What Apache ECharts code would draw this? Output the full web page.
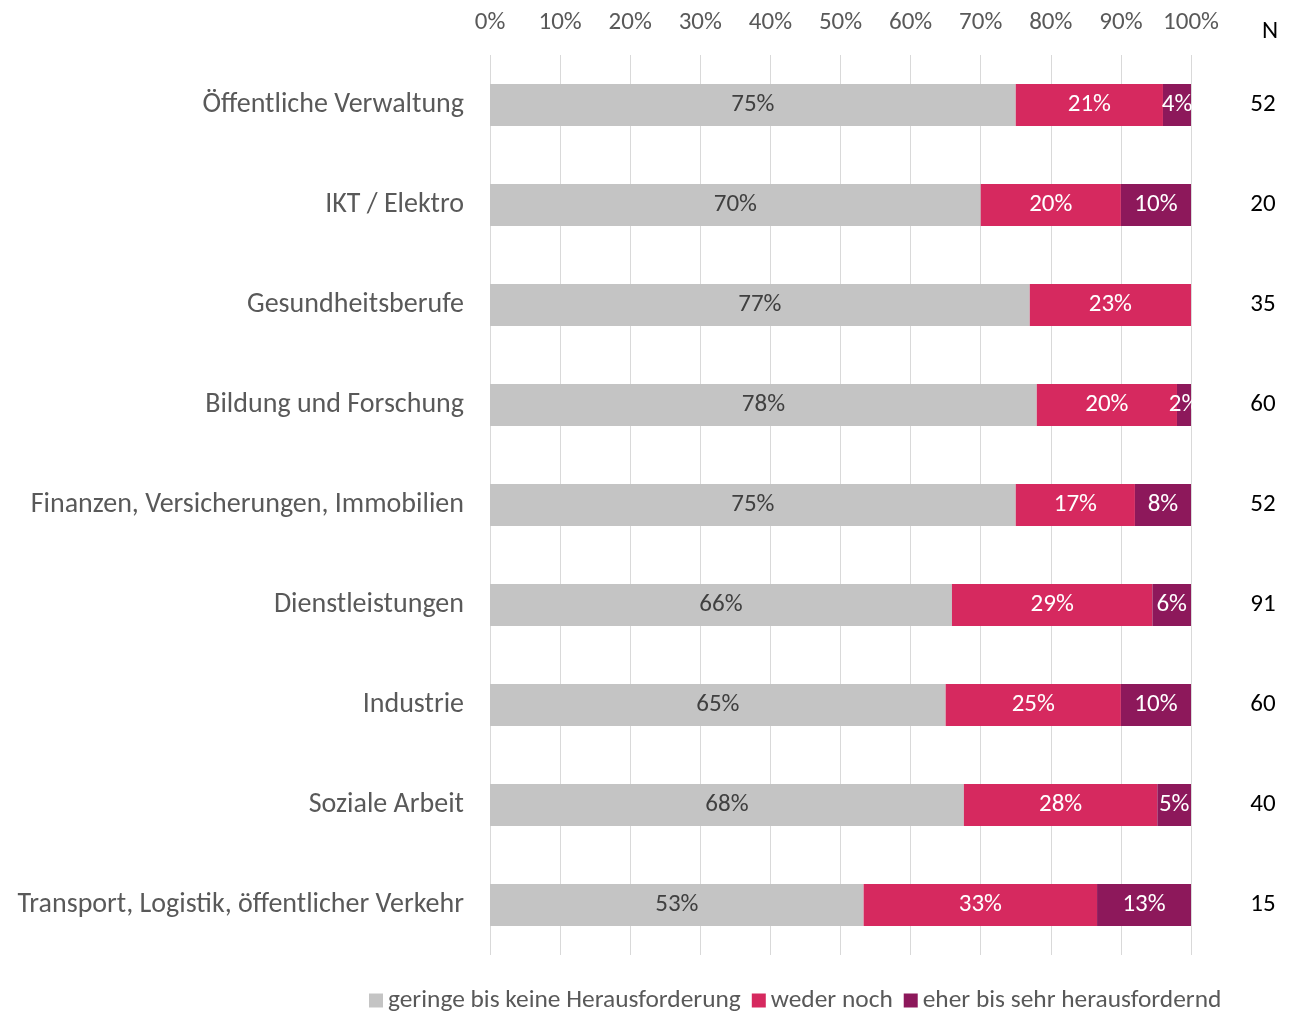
<!DOCTYPE html>
<html>
<head>
<meta charset="utf-8">
<script src="https://cdn.jsdelivr.net/npm/echarts@6/dist/echarts.min.js"></script>
<style>
  html, body { margin: 0; padding: 0; background: #fff; }
  #chart { width: 1291px; height: 1011px; }
</style>
</head>
<body>
<div id="chart"></div>
<script>
// Branchen (top to bottom)
const categories = [
  'Öffentliche Verwaltung',
  'IKT / Elektro',
  'Gesundheitsberufe',
  'Bildung und Forschung',
  'Finanzen, Versicherungen, Immobilien',
  'Dienstleistungen',
  'Industrie',
  'Soziale Arbeit',
  'Transport, Logistik, öffentlicher Verkehr'
];

// Shares in percent per answer group
const geringe = [75, 70, 77, 78, 75, 65.9, 65, 67.6, 53.3];
const wederNoch = [21, 20, 23, 20, 17, 28.6, 25, 27.6, 33.3];
const herausfordernd = [4, 10, 0, 2, 8, 5.5, 10, 4.8, 13.4];

// Sample sizes
const nValues = [52, 20, 35, 60, 52, 91, 60, 40, 15];

// Axis ticks
const xTicks = [0, 10, 20, 30, 40, 50, 60, 70, 80, 90, 100];

const seriesNames = ['geringe bis keine Herausforderung', 'weder noch', 'eher bis sehr herausfordernd'];
const colors = ['#C4C4C4', '#D6295F', '#8D185B'];
const labelColors = ['#404040', '#FFFFFF', '#FFFFFF'];

const FONT = 'Carlito, Lato, "Open Sans", sans-serif';

const chart = echarts.init(document.getElementById('chart'), null, { renderer: 'canvas' });

function makeSeries(name, data, idx) {
  return {
    name: name,
    type: 'bar',
    stack: 'total',
    barWidth: 42,
    data: data,
    itemStyle: { color: colors[idx] },
    label: {
      show: true,
      position: 'inside',
      color: labelColors[idx],
      fontFamily: FONT,
      fontSize: 25,
      padding: [4, 0, 0, 0],
      formatter: p => (p.value > 0 ? Math.round(p.value) + '%' : '')
    },
    emphasis: { disabled: true }
  };
}

chart.setOption({
  animation: false,
  color: colors,
  title: {
    text: 'N',
    left: 1257,
    top: 14,
    textStyle: { fontFamily: FONT, fontSize: 25, fontWeight: 'normal', color: '#000' }
  },
  grid: { left: 490, right: 100, top: 55, bottom: 56, containLabel: false },
  legend: {
    top: 983,
    left: 364,
    itemWidth: 14,
    itemHeight: 14,
    itemGap: 11,
    icon: 'rect',
    textStyle: { fontFamily: FONT, fontSize: 25.4, color: '#595959' },
    data: seriesNames
  },
  xAxis: {
    type: 'value',
    position: 'top',
    min: 0,
    max: 100,
    interval: 10,
    axisLine: { show: false },
    axisTick: { show: false },
    splitLine: { lineStyle: { color: '#D9D9D9', width: 1 } },
    axisLabel: {
      margin: 20,
      color: '#595959',
      fontFamily: FONT,
      fontSize: 25,
      formatter: v => (xTicks.indexOf(v) >= 0 ? v + '%' : '')
    }
  },
  yAxis: [
    {
      type: 'category',
      inverse: true,
      data: categories,
      axisLine: { show: false },
      axisTick: { show: false },
      axisLabel: {
        margin: 26,
        color: '#595959',
        fontFamily: FONT,
        fontSize: 28,
        padding: [5, 0, 0, 0]
      }
    },
    {
      type: 'category',
      inverse: true,
      position: 'right',
      data: nValues.map(String),
      axisLine: { show: false },
      axisTick: { show: false },
      axisLabel: {
        margin: 72,
        align: 'center',
        color: '#000',
        fontFamily: FONT,
        fontSize: 25,
        padding: [0, 0, 12, 0]
      }
    }
  ],
  series: [
    makeSeries(seriesNames[0], geringe, 0),
    makeSeries(seriesNames[1], wederNoch, 1),
    makeSeries(seriesNames[2], herausfordernd, 2)
  ]
});
</script>
</body>
</html>
